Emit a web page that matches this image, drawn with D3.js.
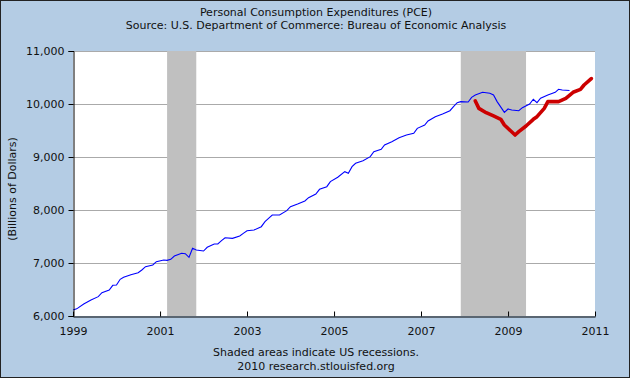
<!DOCTYPE html>
<html>
<head>
<meta charset="utf-8">
<script src="https://cdn.jsdelivr.net/npm/d3@7"></script>
<style>
  html, body { margin: 0; padding: 0; background: #b4cce4; }
  svg { display: block; }
  text { font-family: "DejaVu Sans", Verdana, sans-serif; fill: #111; }
</style>
</head>
<body>
<svg id="chart" width="630" height="378"></svg>
<script>
// ---- Data ----
const titleLines = ["Personal Consumption Expenditures (PCE)",
                    "Source: U.S. Department of Commerce: Bureau of Economic Analysis"];
const yAxisLabel = "(Billions of Dollars)";
const footLines = ["Shaded areas indicate US recessions.", "2010 research.stlouisfed.org"];

const yTicks = [6000, 7000, 8000, 9000, 10000, 11000];
const xTickYears = [1999, 2001, 2003, 2005, 2007, 2009, 2011];

const recessionStarts = ["2001-03", "2007-12"];
const recessionEnds   = ["2001-11", "2009-06"];

const pceMonths = [
  "1999-01","1999-02","1999-04","1999-06","1999-08","1999-09","1999-11","1999-12",
  "2000-01","2000-02","2000-03","2000-05","2000-07","2000-08","2000-09","2000-11","2000-12",
  "2001-02","2001-03","2001-04","2001-05","2001-07","2001-08","2001-09","2001-10","2001-11",
  "2002-01","2002-02","2002-04","2002-05","2002-06","2002-07","2002-09","2002-11","2002-12",
  "2003-01","2003-03","2003-05","2003-06","2003-07","2003-08","2003-10","2003-12",
  "2004-01","2004-03","2004-05","2004-06","2004-08","2004-09","2004-11","2004-12",
  "2005-02","2005-04","2005-05","2005-06","2005-07","2005-09","2005-11","2005-12",
  "2006-02","2006-03","2006-05","2006-07","2006-09","2006-11","2006-12",
  "2007-02","2007-03","2007-05","2007-07","2007-09","2007-10","2007-11","2007-12",
  "2008-02","2008-03","2008-04","2008-06","2008-08","2008-09","2008-10","2008-12",
  "2009-01","2009-02","2009-04","2009-05","2009-07","2009-08","2009-09","2009-10","2009-12",
  "2010-02","2010-03","2010-04","2010-06"
];
const pceValues = [
  6113,6135,6226,6302,6365,6440,6490,6579,
  6585,6692,6730,6780,6817,6868,6930,6962,7025,
  7057,7050,7070,7132,7183,7175,7107,7277,7245,
  7226,7296,7358,7360,7421,7477,7465,7509,7560,
  7609,7623,7685,7779,7843,7906,7906,7988,
  8063,8113,8170,8233,8302,8390,8440,8535,
  8617,8723,8692,8817,8881,8930,9006,9100,
  9145,9226,9289,9364,9415,9447,9541,
  9604,9679,9761,9811,9874,9950,10025,10045,
  10038,10126,10170,10221,10202,10170,10045,9843,
  9906,9887,9874,9931,10000,10089,10025,10108,10170,
  10221,10277,10264,10255
];

const revMonths = [
  "2008-04","2008-05","2008-07","2008-09","2008-11","2008-12",
  "2009-03","2009-04","2009-06","2009-08","2009-09","2009-11","2009-12",
  "2010-03","2010-05","2010-07","2010-09","2010-10","2010-12"
];
const revValues = [
  10057,9918,9836,9774,9711,9604,
  9415,9478,9585,9711,9761,9918,10045,
  10045,10108,10221,10277,10358,10480
];

// ---- Layout ----
const W = 630, H = 378;
const plot = { left: 73, right: 595, top: 51, bottom: 316 };
const parse = d3.timeParse("%Y-%m");

const svg = d3.select("#chart");
svg.append("rect").attr("x", 0.5).attr("y", 0.5).attr("width", W - 1).attr("height", H - 1)
  .attr("fill", "#b4cce4").attr("stroke", "#222").attr("stroke-width", 1);

const x = d3.scaleTime()
  .domain([new Date(1999, 0, 1), new Date(2011, 0, 1)])
  .range([plot.left, plot.right]);
const y = d3.scaleLinear().domain([6000, 11000]).range([plot.bottom, plot.top]);

// plot background
svg.append("rect").attr("x", plot.left).attr("y", plot.top)
  .attr("width", plot.right - plot.left).attr("height", plot.bottom - plot.top)
  .attr("fill", "#ffffff");

// gridlines
svg.append("g").selectAll("line").data(yTicks.filter(d => d > 6000)).join("line")
  .attr("x1", plot.left).attr("x2", plot.right)
  .attr("y1", d => Math.round(y(d)) + 0.5).attr("y2", d => Math.round(y(d)) + 0.5)
  .attr("stroke", "#aaaaaa").attr("stroke-width", 1);

// recessions
svg.append("g").selectAll("rect").data(recessionStarts.map((s, i) => [parse(s), parse(recessionEnds[i])])).join("rect")
  .attr("x", d => x(d[0])).attr("width", d => x(d[1]) - x(d[0]))
  .attr("y", plot.top).attr("height", plot.bottom - plot.top)
  .attr("fill", "#c0c0c0");

// lines
const pce = pceMonths.map((m, i) => ({ date: parse(m), value: pceValues[i] }));
const rev = revMonths.map((m, i) => ({ date: parse(m), value: revValues[i] }));
const line = d3.line().x(d => x(d.date)).y(d => y(d.value));

svg.append("path").datum(pce).attr("d", line)
  .attr("fill", "none").attr("stroke", "#0000ff").attr("stroke-width", 1.1);
svg.append("path").datum(rev).attr("d", line)
  .attr("fill", "none").attr("stroke", "#cc0000").attr("stroke-width", 3.6)
  .attr("stroke-linejoin", "round").attr("stroke-linecap", "round");

// axes
const yAxis = d3.axisLeft(y).tickValues(yTicks).tickSize(5).tickPadding(4)
  .tickFormat(d3.format(","));
const gy = svg.append("g").attr("transform", `translate(${plot.left + 0.5},0)`).call(yAxis);
gy.select(".domain").attr("stroke", "#000");
gy.selectAll(".tick line").attr("stroke", "#000");
gy.selectAll(".tick text").attr("font-size", 11).attr("font-family", "DejaVu Sans, Verdana, sans-serif").attr("fill", "#111");

const xAxis = d3.axisBottom(x).tickValues(xTickYears.map(yy => new Date(yy, 0, 1)))
  .tickSize(0).tickPadding(11).tickFormat(d3.timeFormat("%Y"));
const gx = svg.append("g").attr("transform", `translate(0,${plot.bottom + 0.5})`).call(xAxis);
gx.select(".domain").attr("stroke", "#000");
gx.selectAll(".tick text").attr("font-size", 11).attr("font-family", "DejaVu Sans, Verdana, sans-serif").attr("fill", "#111");
gx.selectAll(".tick").append("line").attr("y1", 0).attr("y2", -5).attr("stroke", "#000");

// titles
svg.append("g").selectAll("text").data(titleLines).join("text")
  .attr("x", 316).attr("y", (d, i) => 16 + i * 13)
  .attr("text-anchor", "middle").attr("font-size", 11).text(d => d);

svg.append("text").attr("transform", "translate(16,189) rotate(-90)")
  .attr("text-anchor", "middle").attr("font-size", 11).text(yAxisLabel);

svg.append("g").selectAll("text").data(footLines).join("text")
  .attr("x", 316).attr("y", (d, i) => 356 + i * 13.5)
  .attr("text-anchor", "middle").attr("font-size", 11).text(d => d);
</script>
</body>
</html>
